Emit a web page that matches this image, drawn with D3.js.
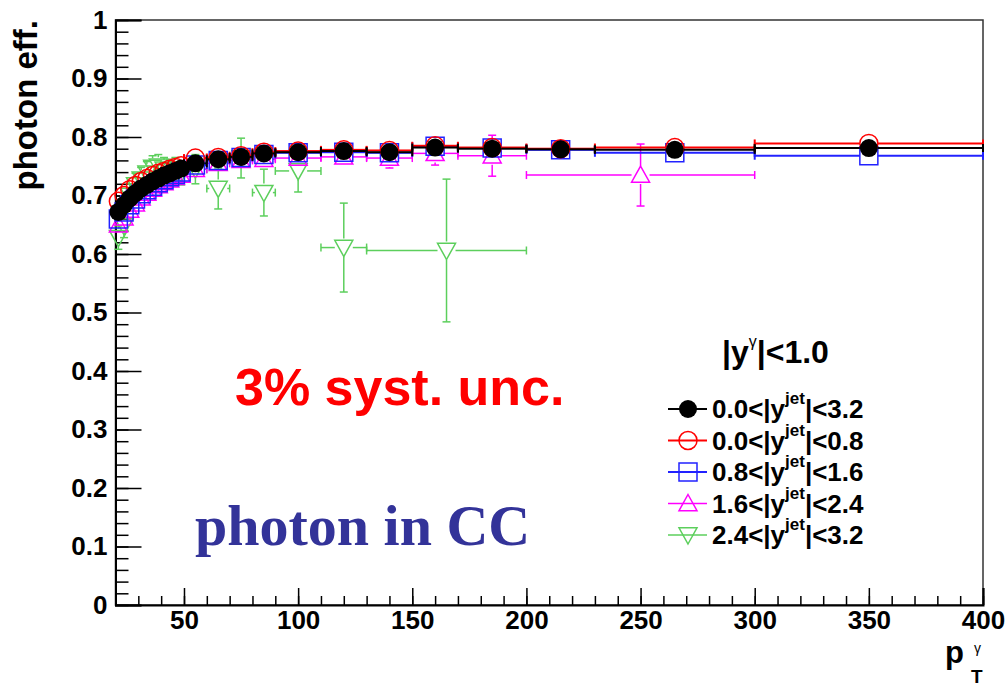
<!DOCTYPE html>
<html>
<head>
<meta charset="utf-8">
<script src="https://cdn.jsdelivr.net/npm/d3@7"></script>
<style>
  body { margin: 0; background: #fff; }
  svg text { font-family: "Liberation Sans", Arial, sans-serif; font-weight: bold; }
</style>
</head>
<body>
<div id="chart"></div>
<script>
// ---- data ----
var ptLow = [21.25, 23.75, 26.25, 28.75, 31.25, 33.75, 36.25, 38.75, 41.25, 43.75, 46.25, 48.75];
var ptLowErr = [1.25, 1.25, 1.25, 1.25, 1.25, 1.25, 1.25, 1.25, 1.25, 1.25, 1.25, 1.25];

var ptAll = ptLow.concat([55, 65, 75, 85, 100, 120, 140, 160, 185, 215, 265, 350]);
var ptAllErr = ptLowErr.concat([5, 5, 5, 5, 10, 10, 10, 10, 15, 15, 35, 50]);

var ptMag = ptLow.concat([55, 65, 75, 85, 100, 120, 140, 160, 185, 250]);
var ptMagErr = ptLowErr.concat([5, 5, 5, 5, 10, 10, 10, 10, 15, 50]);

var ptGreen = ptLow.concat([55, 65, 75, 85, 100, 120, 165]);
var ptGreenErr = ptLowErr.concat([5, 5, 5, 5, 10, 10, 35]);

var effAll = [0.672, 0.684, 0.695, 0.704, 0.712, 0.718, 0.724, 0.729, 0.734, 0.738, 0.742, 0.746,
              0.755, 0.762, 0.766, 0.772, 0.774, 0.776, 0.774, 0.782, 0.780, 0.779, 0.778, 0.781];
var effRed = [0.690, 0.700, 0.710, 0.717, 0.724, 0.729, 0.734, 0.738, 0.741, 0.745, 0.748, 0.751,
              0.764, 0.765, 0.768, 0.774, 0.776, 0.778, 0.777, 0.785, 0.782, 0.780, 0.782, 0.789];
var effBlue = [0.660, 0.672, 0.684, 0.694, 0.703, 0.710, 0.716, 0.722, 0.727, 0.732, 0.736, 0.740,
               0.752, 0.760, 0.765, 0.770, 0.773, 0.774, 0.773, 0.784, 0.781, 0.778, 0.773, 0.768];
var effMag = [0.650, 0.662, 0.675, 0.686, 0.696, 0.704, 0.711, 0.717, 0.722, 0.727, 0.731, 0.735,
              0.745, 0.755, 0.760, 0.762, 0.764, 0.766, 0.764, 0.772, 0.768, 0.735];
var effMagErr = [0.01, 0.01, 0.01, 0.01, 0.01, 0.01, 0.01, 0.01, 0.01, 0.01, 0.01, 0.01,
                 0.012, 0.012, 0.012, 0.014, 0.014, 0.015, 0.017, 0.02, 0.035, 0.053];
var effGreen = [0.628, 0.648, 0.700, 0.718, 0.728, 0.738, 0.748, 0.750, 0.745, 0.742, 0.745, 0.738,
                0.745, 0.712, 0.764, 0.705, 0.742, 0.611, 0.606];
var effGreenErr = [0.02, 0.02, 0.02, 0.02, 0.02, 0.02, 0.02, 0.02, 0.02, 0.02, 0.02, 0.02,
                   0.025, 0.035, 0.034, 0.04, 0.036, 0.076, 0.122];
var smallErr = 0.004;

var legendLabels = [["0.0", "3.2"], ["0.0", "0.8"], ["0.8", "1.6"], ["1.6", "2.4"], ["2.4", "3.2"]];
var xTicks = [50, 100, 150, 200, 250, 300, 350, 400];
var yTicks = [0, 0.1, 0.2, 0.3, 0.4, 0.5, 0.6, 0.7, 0.8, 0.9, 1];
var yTickLabels = ["0", "0.1", "0.2", "0.3", "0.4", "0.5", "0.6", "0.7", "0.8", "0.9", "1"];

// ---- layout ----
var width = 1006, height = 688;
var plotLeft = 115.5, plotRight = 983, plotTop = 20, plotBottom = 605;

var x = d3.scaleLinear().domain([20, 400]).range([plotLeft, plotRight]);
var y = d3.scaleLinear().domain([0, 1]).range([plotBottom, plotTop]);

var svg = d3.select("#chart").append("svg")
    .attr("width", width)
    .attr("height", height);

// frame
svg.append("rect")
    .attr("x", plotLeft).attr("y", plotTop)
    .attr("width", plotRight - plotLeft).attr("height", plotBottom - plotTop)
    .attr("fill", "none").attr("stroke", "#333").attr("stroke-width", 1.5);

// y axis (ticks point into the frame)
var yMinor = d3.range(0, 1.0001, 0.02);
svg.append("g")
    .attr("transform", "translate(" + plotLeft + ",0)")
    .call(d3.axisLeft(y).tickValues(yMinor).tickSize(-13).tickFormat(""))
    .call(function (g) { g.select(".domain").remove(); })
    .selectAll("line").attr("stroke-width", 1.5);
var yAxis = svg.append("g")
    .attr("transform", "translate(" + plotLeft + ",0)")
    .call(d3.axisLeft(y).tickValues(yTicks).tickSize(-26).tickPadding(8)
        .tickFormat(function (d, i) { return yTickLabels[i]; }));
yAxis.select(".domain").attr("stroke-width", 2);
yAxis.selectAll("line").attr("stroke-width", 1.5);
yAxis.selectAll("text").attr("font-size", 26);

// x axis
var xMinor = d3.range(20, 401, 10);
svg.append("g")
    .attr("transform", "translate(0," + plotBottom + ")")
    .call(d3.axisBottom(x).tickValues(xMinor).tickSize(-9).tickFormat(""))
    .call(function (g) { g.select(".domain").remove(); })
    .selectAll("line").attr("stroke-width", 1.5);
var xAxis = svg.append("g")
    .attr("transform", "translate(0," + plotBottom + ")")
    .call(d3.axisBottom(x).tickValues(xTicks).tickSize(-17).tickPadding(6));
xAxis.select(".domain").attr("stroke-width", 2);
xAxis.selectAll("line").attr("stroke-width", 1.5);
xAxis.selectAll("text").attr("font-size", 26);

// axis titles
svg.append("text")
    .attr("transform", "translate(37," + plotTop + ") rotate(-90)")
    .attr("text-anchor", "end")
    .attr("font-size", 33)
    .text("photon eff.");

svg.append("text").attr("x", 945).attr("y", 663).attr("font-size", 31).text("p");
svg.append("text").attr("x", 971).attr("y", 683).attr("font-size", 19).text("T");
svg.append("text").attr("x", 974).attr("y", 653).attr("font-size", 14)
    .style("font-weight", "normal").text("γ");

// ---- markers ----
var R = 9;
function markerPath(type, r) {
    if (type === "square") return "M" + (-r) + "," + (-r) + "h" + 2 * r + "v" + 2 * r + "h" + (-2 * r) + "Z";
    if (type === "up") return "M0," + (-r) + "L" + r + "," + r * 0.8 + "L" + (-r) + "," + r * 0.8 + "Z";
    if (type === "down") return "M0," + r + "L" + r + "," + (-r * 0.8) + "L" + (-r) + "," + (-r * 0.8) + "Z";
    return null;
}

function drawMarkers(g, coords, s) {
    coords.forEach(function (c) {
        if (s.type === "dot") {
            g.append("circle").attr("cx", c[0]).attr("cy", c[1]).attr("r", R).attr("fill", s.color);
        } else if (s.type === "circle") {
            g.append("circle").attr("cx", c[0]).attr("cy", c[1]).attr("r", R)
                .attr("fill", "none").attr("stroke", s.color).attr("stroke-width", 1.5);
        } else {
            g.append("path").attr("transform", "translate(" + c[0] + "," + c[1] + ")")
                .attr("d", markerPath(s.type, R))
                .attr("fill", "none").attr("stroke", s.color).attr("stroke-width", 1.5);
        }
    });
}

var series = [
    { xs: ptGreen, xe: ptGreenErr, ys: effGreen, ye: effGreenErr, color: "#5ccf5c", type: "down", lw: 1.5 },
    { xs: ptMag, xe: ptMagErr, ys: effMag, ye: effMagErr, color: "#ff00ff", type: "up", lw: 1.5 },
    { xs: ptAll, xe: ptAllErr, ys: effBlue, ye: null, color: "#2222ff", type: "square", lw: 2 },
    { xs: ptAll, xe: ptAllErr, ys: effRed, ye: null, color: "#ff0000", type: "circle", lw: 2 },
    { xs: ptAll, xe: ptAllErr, ys: effAll, ye: null, color: "#000000", type: "dot", lw: 2 }
];

var cap = 4;
series.forEach(function (s) {
    var pts = s.xs.map(function (d, i) {
        return { x: d, xe: s.xe[i], y: s.ys[i], ye: s.ye ? s.ye[i] : smallErr };
    });
    var g = svg.append("g");
    var bars = g.selectAll("g.pt").data(pts).enter().append("g")
        .attr("stroke", s.color).attr("stroke-width", s.lw).attr("fill", "none");
    bars.each(function (d) {
        var el = d3.select(this);
        var cx = x(d.x), cy = y(d.y);
        var x0 = x(d.x - d.xe), x1 = x(d.x + d.xe);
        var y0 = y(d.y - d.ye), y1 = y(d.y + d.ye);
        if (cx - x0 > R) {
            el.append("line").attr("x1", x0).attr("x2", cx - R).attr("y1", cy).attr("y2", cy);
            el.append("line").attr("x1", cx + R).attr("x2", x1).attr("y1", cy).attr("y2", cy);
            el.append("line").attr("x1", x0).attr("x2", x0).attr("y1", cy - cap).attr("y2", cy + cap);
            el.append("line").attr("x1", x1).attr("x2", x1).attr("y1", cy - cap).attr("y2", cy + cap);
        }
        if (y0 - cy > R) {
            el.append("line").attr("x1", cx).attr("x2", cx).attr("y1", y1).attr("y2", cy - R);
            el.append("line").attr("x1", cx).attr("x2", cx).attr("y1", cy + R).attr("y2", y0);
            el.append("line").attr("x1", cx - cap).attr("x2", cx + cap).attr("y1", y1).attr("y2", y1);
            el.append("line").attr("x1", cx - cap).attr("x2", cx + cap).attr("y1", y0).attr("y2", y0);
        }
    });
    drawMarkers(g, pts.map(function (d) { return [x(d.x), y(d.y)]; }), s);
});

// ---- annotations ----
svg.append("text").attr("x", 235).attr("y", 405).attr("font-size", 52).attr("fill", "#ff0000")
    .text("3% syst. unc.");
svg.append("text").attr("x", 195).attr("y", 545).attr("font-size", 58).attr("fill", "#333399")
    .style("font-family", "'Liberation Serif', 'Times New Roman', serif").text("photon in CC");

// ---- legend ----
var title = svg.append("text").attr("x", 722).attr("y", 363).attr("font-size", 32);
title.append("tspan").text("|y");
title.append("tspan").attr("dy", -16).attr("font-size", 16).style("font-weight", "normal").text("γ");
title.append("tspan").attr("dy", 16).text("|<1.0");

var legendOrder = [4, 3, 2, 1, 0];
legendOrder.forEach(function (si, i) {
    var s = series[si];
    var cy = 409 + i * 31.5;
    var g = svg.append("g");
    g.append("line").attr("x1", 668).attr("x2", 707).attr("y1", cy).attr("y2", cy)
        .attr("stroke", s.color).attr("stroke-width", s.lw);
    drawMarkers(g, [[688, cy]], s);
    var t = svg.append("text").attr("x", 712).attr("y", cy + 9).attr("font-size", 26);
    t.append("tspan").text(legendLabels[i][0] + "<|y");
    t.append("tspan").attr("dy", -14).attr("font-size", 17).text("jet");
    t.append("tspan").attr("dy", 14).text("|<" + legendLabels[i][1]);
});
</script>
</body>
</html>
